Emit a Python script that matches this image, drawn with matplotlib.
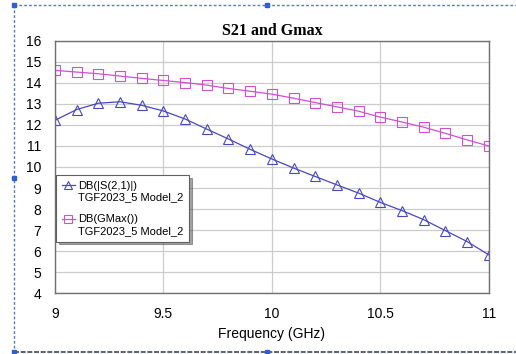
import matplotlib
matplotlib.use('Agg')
import matplotlib.pyplot as plt
import numpy as np
from matplotlib.lines import Line2D
from matplotlib.legend_handler import HandlerLine2D

# Dados (frequência em GHz, ganho em dB)
freq = [9.0, 9.1, 9.2, 9.3, 9.4, 9.5, 9.6, 9.7, 9.8, 9.9, 10.0,
        10.1, 10.2, 10.3, 10.4, 10.5, 10.6, 10.7, 10.8, 10.9, 11.0]
s21 = [12.22, 12.73, 13.03, 13.10, 12.93, 12.66, 12.28, 11.80, 11.33, 10.84, 10.38,
       9.95, 9.55, 9.15, 8.76, 8.32, 7.93, 7.50, 6.98, 6.46, 5.83]
gmax = [14.59, 14.51, 14.43, 14.32, 14.21, 14.11, 14.01, 13.89, 13.73, 13.60, 13.46,
        13.27, 13.06, 12.86, 12.65, 12.37, 12.14, 11.89, 11.60, 11.29, 11.00]

x_ticks = [9, 9.5, 10, 10.5, 11]
x_tick_labels = ['9', '9.5', '10', '10.5', '11']
y_ticks = list(range(4, 17))

label_s21 = 'DB(|S(2,1)|)\nTGF2023_5 Model_2'
label_gmax = 'DB(GMax())\nTGF2023_5 Model_2'


class TopLineHandler(HandlerLine2D):
    # coloca o símbolo da legenda na altura da primeira linha de texto
    def create_artists(self, legend, orig_handle, xdescent, ydescent,
                       width, height, fontsize, trans):
        artists = super().create_artists(legend, orig_handle, xdescent, ydescent,
                                         width, height, fontsize, trans)
        for a in artists:
            a.set_ydata(np.asarray(a.get_ydata()) + 0.6 * fontsize)
        return artists


plt.rcParams['font.family'] = ['Liberation Sans', 'DejaVu Sans']

W, H = 516, 354
fig = plt.figure(figsize=(W / 100, H / 100), dpi=100)
ax = fig.add_axes([55 / W, 1 - 293.3 / H, (488.7 - 55) / W, (293.3 - 40.7) / H])

l1, = ax.plot(freq, s21, color='#4848c0', lw=0.9, marker='^', ms=7,
              mfc='none', mec='#4848c0', mew=0.8, label=label_s21)
l2, = ax.plot(freq, gmax, color='#d050d0', lw=0.9, marker='s', ms=6.5,
              mfc='none', mec='#d050d0', mew=0.8, label=label_gmax)

ax.set_xlim(9, 11)
ax.set_ylim(4, 16)
ax.set_xticks(x_ticks)
ax.set_xticklabels(x_tick_labels)
ax.set_yticks(y_ticks)
ax.tick_params(axis='both', length=0, labelsize=10, colors='black')
ax.tick_params(axis='x', pad=10)
ax.tick_params(axis='y', pad=10)
ax.grid(True, color='#cccccc', lw=0.9)
ax.set_axisbelow(True)
for s in ax.spines.values():
    s.set_color('#707070')
    s.set_linewidth(1.0)

ax.set_xlabel('Frequency (GHz)', fontsize=10, labelpad=4)
ax.set_title('S21 and Gmax', fontsize=11.5, fontweight='bold',
             family='Liberation Serif', pad=4)

leg = ax.legend(loc='upper left', bbox_to_anchor=(56 / W, 1 - 175 / H),
                bbox_transform=fig.transFigure, fontsize=8, frameon=True,
                fancybox=False, shadow=True, framealpha=1, edgecolor='#606060',
                handlelength=1.2, handletextpad=0.3, borderpad=0.5,
                labelspacing=1.1, borderaxespad=0, markerscale=0.9,
                handler_map={l1: TopLineHandler(), l2: TopLineHandler()})
leg.get_frame().set_linewidth(0.8)

# Moldura tracejada de seleção
bc = '#5a78c8'
fig.add_artist(Line2D([14 / W, 14 / W], [1 - 4.5 / H, 1 - 352 / H], transform=fig.transFigure,
                      color=bc, lw=1, ls=(0, (2, 1.5))))
fig.add_artist(Line2D([14 / W, 1], [1 - 4.5 / H, 1 - 4.5 / H], transform=fig.transFigure,
                      color=bc, lw=1, ls=(0, (2, 1.5))))
fig.add_artist(Line2D([14 / W, 1], [1 - 352 / H, 1 - 352 / H], transform=fig.transFigure,
                      color='#404860', lw=1.2, ls=(0, (3, 1))))
for px, py in [(14, 4.5), (267, 4.5), (14, 178), (14, 352), (267, 352)]:
    fig.add_artist(Line2D([px / W], [1 - py / H], transform=fig.transFigure,
                          marker='s', ms=3, color='#3060d0', lw=0))

fig.savefig('out.png', dpi=100)
